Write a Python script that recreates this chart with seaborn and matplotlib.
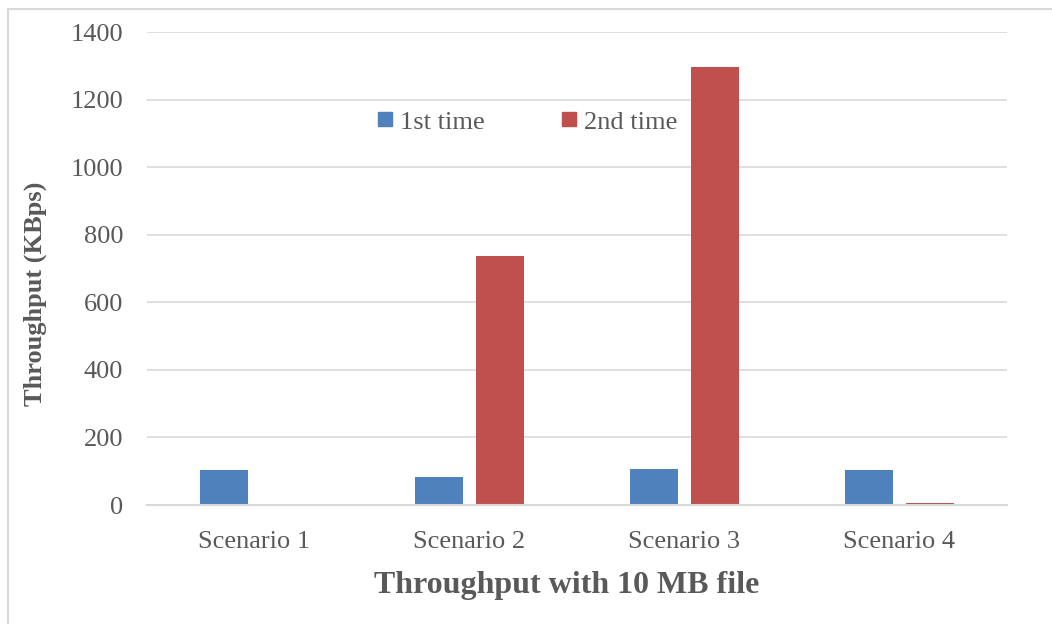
import matplotlib
matplotlib.use("Agg")
import matplotlib.pyplot as plt
import seaborn as sns
import pandas as pd
from matplotlib.lines import Line2D

categories = ["Scenario 1", "Scenario 2", "Scenario 3", "Scenario 4"]
first_time = [104, 83, 106, 104]
second_time = [4, 737, 1296, 6]
series_names = ["1st time", "2nd time"]
y_ticks = [0, 200, 400, 600, 800, 1000, 1200, 1400]

df = pd.DataFrame({
    "Scenario": categories * 2,
    "Series": [series_names[0]] * 4 + [series_names[1]] * 4,
    "Throughput": first_time + second_time,
})

sns.set_style("white")
plt.rcParams["font.family"] = ["Liberation Serif", "DejaVu Serif"]

fig = plt.figure(figsize=(10.52, 6.24), dpi=100)
ax = fig.add_axes([0.1397, 0.1907, 0.8175, 0.758])

palette = {"1st time": "#4F81BD", "2nd time": "#C0504D"}
sns.barplot(data=df, x="Scenario", y="Throughput", hue="Series", palette=palette,
            width=0.57, gap=0.22, ax=ax, saturation=1, edgecolor="none")

ax.set_xlim(-0.5, 3.5)
ax.set_ylim(0, 1400)
ax.set_yticks(y_ticks)
ax.yaxis.grid(True, color="#D9D9D9", linewidth=1.2)
ax.set_axisbelow(True)
for s in ["top", "right", "left"]:
    ax.spines[s].set_visible(False)
ax.spines["bottom"].set_color("#D9D9D9")
ax.spines["bottom"].set_linewidth(1.5)
ax.tick_params(axis="both", colors="#595959", labelsize=19, length=0)
ax.tick_params(axis="y", pad=17)
ax.tick_params(axis="x", pad=19)

ax.set_xlabel("Throughput with 10 MB file", fontsize=23, fontweight="bold", color="#595959")
ax.xaxis.set_label_coords(0.488, -0.140)
ax.set_ylabel("Throughput (KBps)", fontsize=19, fontweight="bold", color="#595959")
ax.yaxis.set_label_coords(-0.116, 0.446)

handles = [Line2D([], [], marker="s", linestyle="none", markersize=9.5, color=palette[n]) for n in series_names]
ax.legend(handles, series_names, loc="center", bbox_to_anchor=(0.4375, 0.81), ncol=2, frameon=False,
          fontsize=19, labelcolor="#595959", handletextpad=-0.05, columnspacing=2.6, handlelength=1.2)

fig.add_artist(Line2D([8 / 1052, 8 / 1052], [0, 1 - 9 / 624], transform=fig.transFigure, color="#D9D9D9", linewidth=1.5))
fig.add_artist(Line2D([8 / 1052, 1], [1 - 9 / 624, 1 - 9 / 624], transform=fig.transFigure, color="#D9D9D9", linewidth=1.5))

fig.savefig("out.png", dpi=100)
